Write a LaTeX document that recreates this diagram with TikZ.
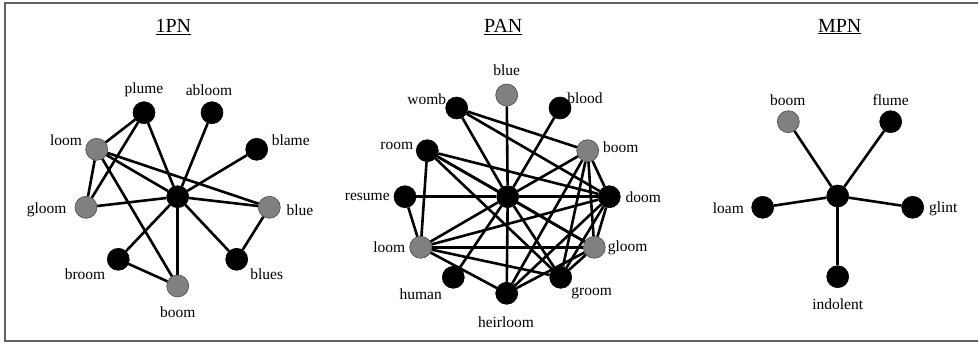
\documentclass[tikz,border=0pt]{standalone}
\usepackage{fontspec}
\setmainfont{Liberation Serif}
\begin{document}
\begin{tikzpicture}[x=1pt,y=-1pt,
  nd/.style={circle,draw=black,fill=black,minimum size=22pt,inner sep=0pt,line width=0.6pt},
  gn/.style={nd,fill=black!50,draw=black!70},
  lbl/.style={font=\fontsize{15.5}{16}\selectfont,inner sep=0pt},
  ttl/.style={font=\fontsize{20}{22}\selectfont,inner sep=0pt},
  ed/.style={line width=2.6pt,black},
  framel/.style={draw=black!62,line width=2pt}]
\useasboundingbox (0,0) rectangle (978,343);
\draw[framel] (979,3) -- (5,3) -- (5,341) -- (979,341);

% ---------- 1PN ----------
\node[ttl] (t1) at (173.3,26.7) {\underline{1PN}};
\node[nd] (aC) at (177.7,196.7) {};
\node[nd] (aplume) at (144,112.7) {};
\node[nd] (aabloom) at (212,112.7) {};
\node[gn] (aloom) at (96.7,149.3) {};
\node[nd] (ablame) at (256.7,149.3) {};
\node[gn] (agloom) at (86,207.3) {};
\node[gn] (ablue) at (269.3,207.3) {};
\node[nd] (abroom) at (118.3,259.3) {};
\node[nd] (ablues) at (236.7,259.3) {};
\node[gn] (aboom) at (177.7,286) {};
\node[lbl] (laplume) at (144,90) {plume};
\node[lbl] (laabloom) at (209,90) {abloom};
\node[lbl] (laloom) at (66,140) {loom};
\node[lbl] (lablame) at (290.7,140) {blame};
\node[lbl] (lagloom) at (46.7,210) {gloom};
\node[lbl] (lablue) at (300,210) {blue};
\node[lbl] (labroom) at (85,274) {broom};
\node[lbl] (lablues) at (266.7,274) {blues};
\node[lbl] (laboom) at (177.7,311.7) {boom};
\foreach \n in {aplume,aabloom,aloom,ablame,agloom,ablue,abroom,ablues,aboom}
  \draw[ed] (aC) -- (\n);
\draw[ed] (aplume) -- (aloom);
\draw[ed] (aplume) -- (agloom);
\draw[ed] (aloom) -- (agloom);
\draw[ed] (aloom) -- (ablue);
\draw[ed] (aloom) -- (aboom);
\draw[ed] (abroom) -- (aboom);
\draw[ed] (ablue) -- (ablues);

% ---------- PAN ----------
\node[ttl] (t2) at (503.3,26.7) {\underline{PAN}};
\node[nd] (pC) at (507.7,196.7) {};
\node[gn] (pblue) at (506.7,95) {};
\node[nd] (pwomb) at (456.7,108) {};
\node[nd] (pblood) at (560,108) {};
\node[nd] (proom) at (427.3,150.7) {};
\node[gn] (pboom) at (587.7,150.7) {};
\node[nd] (presume) at (405,196.7) {};
\node[nd] (pdoom) at (609.3,196.7) {};
\node[gn] (ploom) at (420.7,247.3) {};
\node[gn] (pgloom) at (594.3,247.3) {};
\node[nd] (phuman) at (453.3,277.3) {};
\node[nd] (pheir) at (506.7,293.3) {};
\node[nd] (pgroom) at (560.7,277.3) {};
\node[lbl] (lpblue) at (506.7,70) {blue};
\node[lbl] (lpwomb) at (426.7,99) {womb};
\node[lbl] (lpblood) at (585,98.3) {blood};
\node[lbl] (lproom) at (396.7,145.7) {room};
\node[lbl] (lpboom) at (620.7,146.7) {boom};
\node[lbl] (lpresume) at (367.3,197.3) {resume};
\node[lbl] (lpdoom) at (643.3,197.3) {doom};
\node[lbl] (lploom) at (389.3,247.3) {loom};
\node[lbl] (lpgloom) at (627.7,247.3) {gloom};
\node[lbl] (lphuman) at (420.7,294.3) {human};
\node[lbl] (lpgroom) at (591.7,293.3) {groom};
\node[lbl] (lpheir) at (506,321.7) {heirloom};
\foreach \n in {pblue,pwomb,pblood,proom,pboom,presume,pdoom,ploom,pgloom,phuman,pheir,pgroom}
  \draw[ed] (pC) -- (\n);
\foreach \a/\b in {pwomb/pboom,pwomb/pdoom,proom/pdoom,proom/pgloom,proom/pgroom,proom/ploom,
  presume/ploom,pboom/pdoom,pboom/pgloom,pboom/pheir,pboom/pgroom,pdoom/ploom,pdoom/pgloom,
  pdoom/pheir,pdoom/pgroom,ploom/pgloom,ploom/pgroom,ploom/pheir,pgloom/pheir,pgloom/pgroom}
  \draw[ed] (\a) -- (\b);

% ---------- MPN ----------
\node[ttl] (t3) at (839.7,26.7) {\underline{MPN}};
\node[nd] (mC) at (837.7,196) {};
\node[gn] (mboom) at (788.3,121.7) {};
\node[nd] (mflume) at (890.7,121.7) {};
\node[nd] (mloam) at (762.7,207.3) {};
\node[nd] (mglint) at (912.7,207.3) {};
\node[nd] (mindol) at (837.7,276.7) {};
\node[lbl] (lmboom) at (787.7,100) {boom};
\node[lbl] (lmflume) at (890.7,100) {flume};
\node[lbl] (lmloam) at (728.3,208.3) {loam};
\node[lbl] (lmglint) at (943.3,208.3) {glint};
\node[lbl] (lmindol) at (837.7,304) {indolent};
\foreach \n in {mboom,mflume,mloam,mglint,mindol}
  \draw[ed] (mC) -- (\n);
\end{tikzpicture}
\end{document}
